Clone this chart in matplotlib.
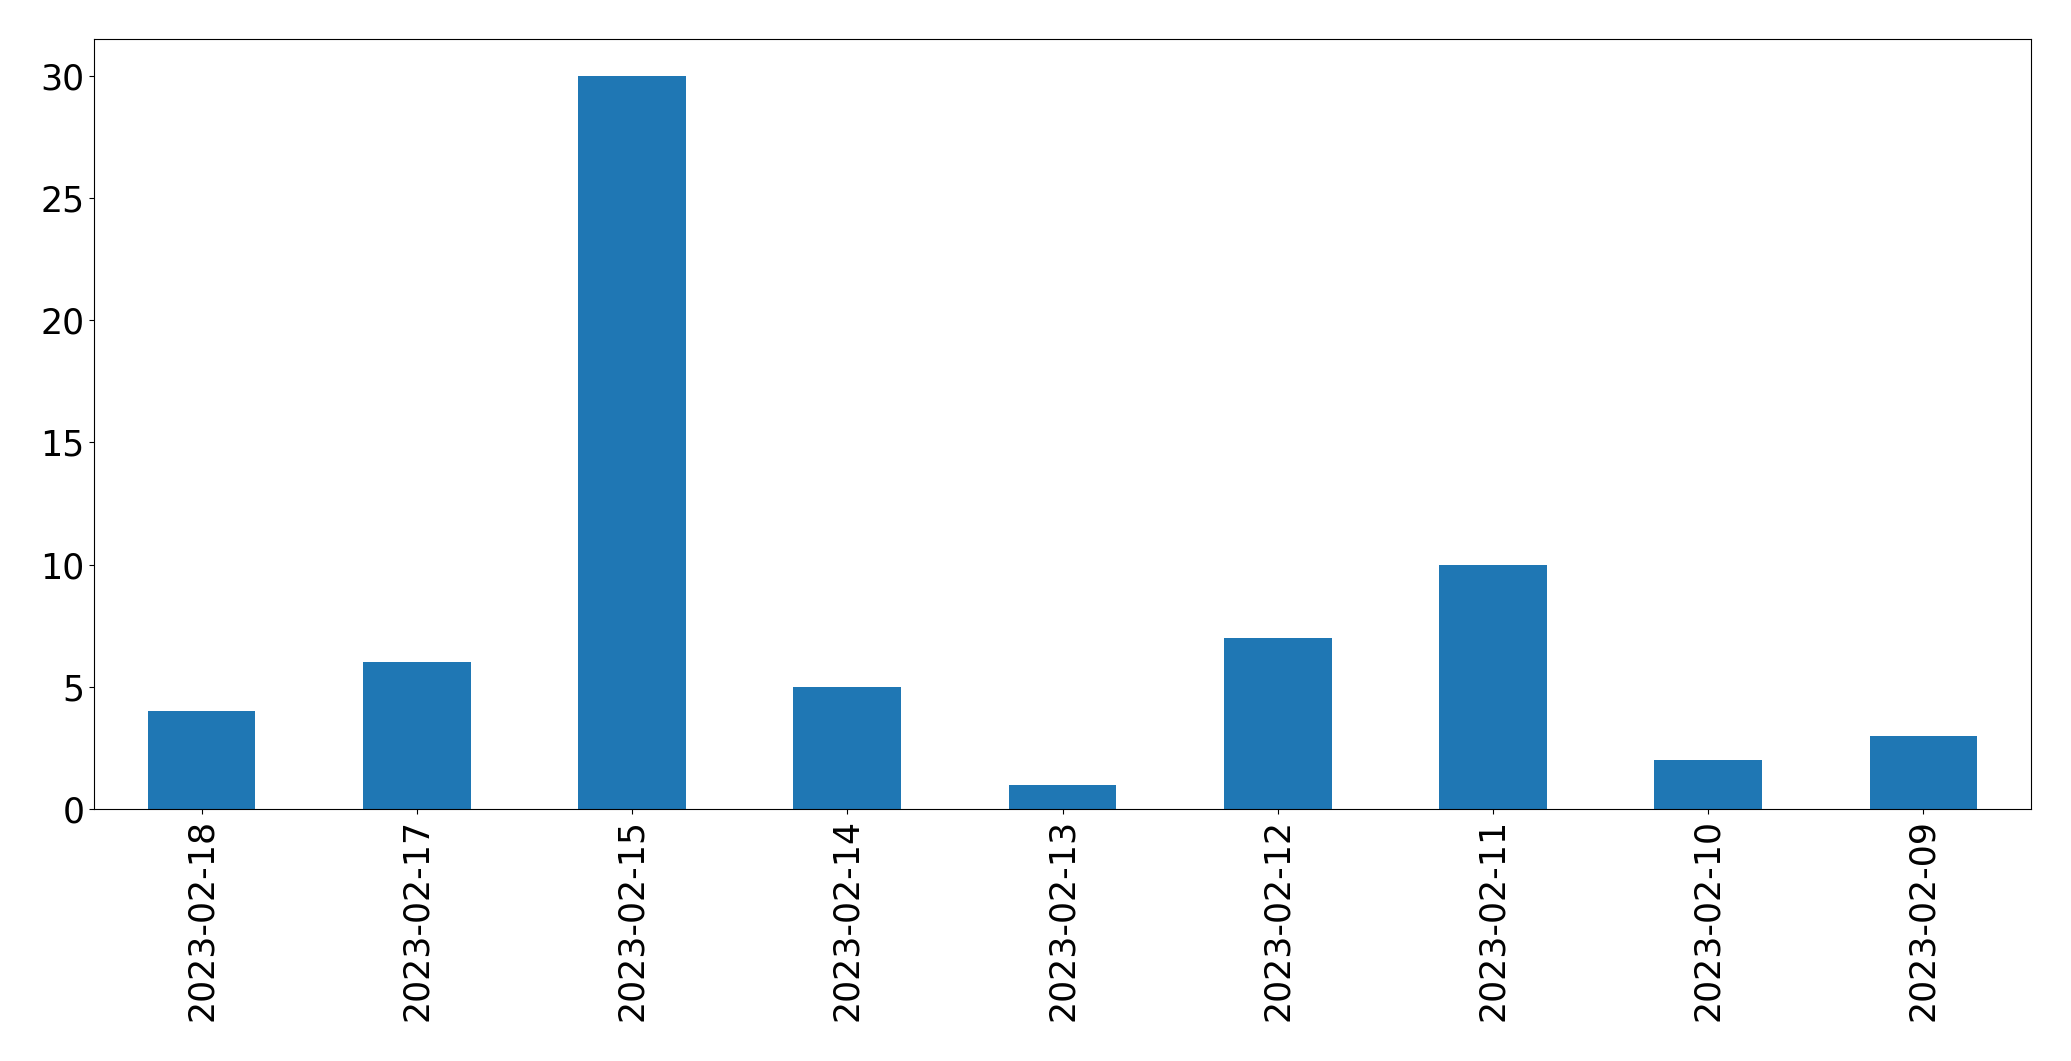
import matplotlib
matplotlib.use("Agg")
import matplotlib.pyplot as plt
import pandas as pd

dates = [
    "2023-02-18", "2023-02-17", "2023-02-15", "2023-02-14", "2023-02-13",
    "2023-02-12", "2023-02-11", "2023-02-10", "2023-02-09",
]
counts = [4, 6, 30, 5, 1, 7, 10, 2, 3]

series = pd.Series(counts, index=dates)

fig = plt.figure(figsize=(20.71, 10.61), dpi=100)
ax = fig.add_axes([94 / 2071, 1 - 809 / 1061, (2031 - 94) / 2071, (809 - 39) / 1061])
series.plot(kind="bar", ax=ax, color="#1f77b4")
ax.tick_params(axis="both", labelsize=25)
fig.savefig("out.png", dpi=100)
